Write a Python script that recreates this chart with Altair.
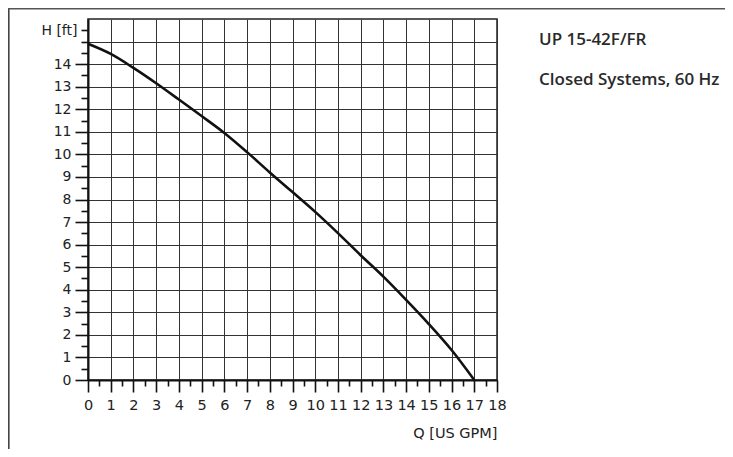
import altair as alt
import pandas as pd

# ---- data ----
q_gpm = list(range(18))
h_ft = [14.9, 14.45, 13.83, 13.15, 12.43, 11.7, 10.95, 10.1, 9.2, 8.33,
        7.45, 6.51, 5.53, 4.58, 3.55, 2.48, 1.33, 0.0]
x_ticks = [i / 2 for i in range(37)]      # 0 .. 18 step 0.5
y_ticks = [i / 2 for i in range(32)]      # 0 .. 15.5 step 0.5
title_line1 = "UP 15-42F/FR"
title_line2 = "Closed Systems, 60 Hz"
x_title = "Q [US GPM]"
y_title = "H [ft]"

W, H = 409, 361
PAD_L, PAD_T = 80, 11
PAD_R, PAD_B = 228, 69

df = pd.DataFrame({"Q": q_gpm, "H": h_ft})

half = "datum.value % 1 !== 0"
LABEL_FONT = "DejaVu Sans"

x_axis = alt.Axis(
    values=x_ticks,
    labelExpr=f"{half} ? '' : format(datum.value, 'd')",
    labelOverlap=False, labelFlush=False, labelBound=False,
    labelFont=LABEL_FONT, labelFontSize=14.5, labelColor="#222", labelPadding=6,
    tickSize={"condition": {"test": half, "value": 6}, "value": 12},
    tickWidth=1.6, tickColor="#111",
    grid=True,
    gridOpacity={"condition": {"test": half, "value": 0}, "value": 1},
    gridColor="#333", gridWidth=1,
    domainColor="#111", domainWidth=2,
    title=x_title, titleFont=LABEL_FONT, titleFontSize=14.5, titleFontWeight="normal",
    titleColor="#222", titleX=W, titleY=57, titleAlign="right", titleBaseline="alphabetic",
)

y_axis = alt.Axis(
    values=y_ticks,
    labelExpr=f"datum.value == 15.5 ? '{y_title}' : (({half}) || datum.value > 14 ? '' : format(datum.value, 'd'))",
    labelOverlap=False, labelFlush=False, labelBound=False,
    labelFont=LABEL_FONT, labelFontSize=14, labelColor="#222", labelPadding=4,
    tickSize={"condition": {"test": f"({half}) || datum.value == 15", "value": 7}, "value": 13},
    tickWidth=1.6, tickColor="#111",
    grid=True,
    gridOpacity={"condition": {"test": half, "value": 0}, "value": 1},
    gridColor="#333", gridWidth=1,
    domainColor="#111", domainWidth=2,
    title=None,
)

curve = alt.Chart(df).mark_line(color="#111", strokeWidth=2.6, interpolate="catmull-rom").encode(
    x=alt.X("Q:Q", scale=alt.Scale(domain=[0, 18], nice=False, zero=False), axis=x_axis),
    y=alt.Y("H:Q", scale=alt.Scale(domain=[0, 16], nice=False, zero=False), axis=y_axis),
)

one = alt.Data(values=[{"k": 0}])
frame_left = alt.Chart(one).mark_rule(color="#444", strokeWidth=1.6).encode(
    x=alt.value(-79.2), y=alt.value(-PAD_T), y2=alt.value(H + PAD_B)
)
frame_top = alt.Chart(one).mark_rule(color="#555", strokeWidth=1.6).encode(
    x=alt.value(-PAD_L), x2=alt.value(W + PAD_R), y=alt.value(-10.2)
)

txt1 = alt.Chart(one).mark_text(
    align="left", baseline="alphabetic", font="Open Sans", fontWeight=600,
    fontSize=17, color="#2a2a2a", text=title_line1
).encode(x=alt.value(451), y=alt.value(26))
txt2 = alt.Chart(one).mark_text(
    align="left", baseline="alphabetic", font="Open Sans", fontWeight=600,
    fontSize=17, color="#2a2a2a", text=title_line2
).encode(x=alt.value(451), y=alt.value(66))

chart = alt.layer(curve, frame_left, frame_top, txt1, txt2).properties(
    width=W, height=H,
    autosize="none",
    padding={"left": PAD_L, "top": PAD_T, "right": PAD_R, "bottom": PAD_B},
    background="white",
).configure_view(stroke="#222", strokeWidth=1.5)

chart.save("out.html", embed_options={"renderer": "svg", "actions": False})
